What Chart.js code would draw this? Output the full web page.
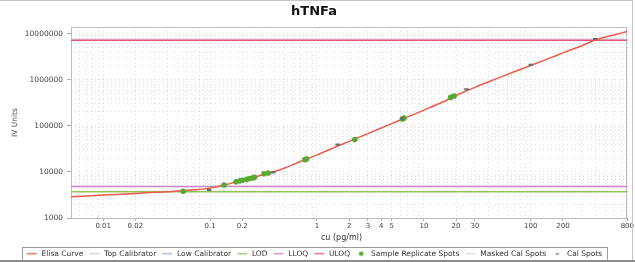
<!DOCTYPE html>
<html>
<head>
<meta charset="utf-8">
<script src="https://cdn.jsdelivr.net/npm/chart.js@4/dist/chart.umd.min.js"></script>
<style>
html,body{margin:0;padding:0;background:#fff;}
#wrap{width:635px;height:262px;position:relative;}
canvas{display:block;}
</style>
</head>
<body>
<div id="wrap"><canvas id="c" width="635" height="262"></canvas></div>
<script>
// ---- data ----
const chartTitle = 'hTNFa';
const xTitle = 'cu (pg/ml)';
const yTitle = 'IV Units';

const curveX = [0.005,0.01,0.02,0.03,0.05,0.07,0.1,0.15,0.2,0.3,0.4,0.5,0.7,1,1.5,2,3,5,7,10,15,20,30,50,70,100,150,200,300,400,500,600,800];
const curveY = [2900,3150,3400,3600,3850,4100,4450,5500,6500,8500,10200,12200,16800,23500,35000,46000,68000,112000,155000,220000,330000,455000,685000,1100000,1500000,2050000,2950000,3850000,5500000,7300000,8500000,9400000,11200000];

const sampleX = [0.056,0.135,0.175,0.19,0.2,0.22,0.235,0.25,0.26,0.32,0.35,0.77,0.8,2.26,6.3,6.5,17.8,19.2];
const sampleY = [3800,5200,6100,6400,6600,6900,7200,7400,7600,9100,9500,18500,19000,50700,141000,147000,415000,445000];

const calX = [0.098,0.39,1.56,6.25,25,100,400];
const calY = [4090,9800,39000,143000,617000,2100000,7660000];

const maskedX = [];
const maskedY = [];

const lodValue = 3700;
const lloqValue = 4830;
const lowCalValue = 4830;
const uloqValue = 7200000;
const topCalValue = 7660000;

const xTickLabels = [0.01,0.02,0.1,0.2,1,2,3,4,5,10,20,30,100,200,800];
const yTickLabels = [1000,10000,100000,1000000,10000000];

const X_MIN = 0.005, X_MAX = 800, Y_MIN = 1000, Y_MAX = 14000000;

// ---- helpers ----
const pts = (xs, ys) => xs.map((x, i) => ({x, y: ys[i]}));
const hline = v => [{x: X_MIN, y: v}, {x: X_MAX, y: v}];
function gridVals(min, max, n0, n1) {
  const out = [];
  for (let n = n0; n <= n1; n++) for (let k = 1; k <= 9; k++) {
    const v = parseFloat((k * Math.pow(10, n)).toPrecision(6));
    if (v >= min * 0.9999 && v <= max * 1.0001) out.push(v);
  }
  return out;
}
const isLabel = (list, v) => list.some(l => Math.abs(l - v) / l < 1e-6);

function icon(kind, color) {
  const c = document.createElement('canvas');
  c.width = 12; c.height = 7;
  const g = c.getContext('2d');
  if (kind === 'line') {
    g.strokeStyle = color; g.lineWidth = 1.3;
    g.beginPath(); g.moveTo(1, 3.5); g.lineTo(11, 3.5); g.stroke();
  } else if (kind === 'dot') {
    g.fillStyle = color; g.beginPath(); g.arc(6, 3.5, 2.3, 0, Math.PI * 2); g.fill();
  } else if (kind === 'dash') {
    g.fillStyle = color; g.fillRect(4.5, 3, 3, 1.4);
  }
  return c;
}

const COLORS = {
  curve: '#ee5a48', topCal: '#c4cde0', lowCal: '#9fb0d0', lod: '#8fc454',
  lloq: '#cf86c8', uloq: '#e2587a', sample: '#5aa832', masked: '#d8d8d8', cal: '#6a6a6a'
};

const datasets = [
  {label: 'Elisa Curve', data: pts(curveX, curveY), showLine: true, borderColor: COLORS.curve, borderWidth: 1.5, pointRadius: 0, cubicInterpolationMode: 'monotone', order: 3, legendKind: 'line'},
  {label: 'Top Calibrator', data: hline(topCalValue), showLine: true, borderColor: COLORS.topCal, borderWidth: 1, pointRadius: 0, order: 6, legendKind: 'line'},
  {label: 'Low Calibrator', data: hline(lowCalValue), showLine: true, borderColor: COLORS.lowCal, borderWidth: 1, pointRadius: 0, order: 6, legendKind: 'line'},
  {label: 'LOD', data: hline(lodValue), showLine: true, borderColor: COLORS.lod, borderWidth: 1.5, pointRadius: 0, order: 5, legendKind: 'line'},
  {label: 'LLOQ', data: hline(lloqValue), showLine: true, borderColor: COLORS.lloq, borderWidth: 1.5, pointRadius: 0, order: 5, legendKind: 'line'},
  {label: 'ULOQ', data: hline(uloqValue), showLine: true, borderColor: COLORS.uloq, borderWidth: 1.5, pointRadius: 0, order: 5, legendKind: 'line'},
  {label: 'Sample Replicate Spots', data: pts(sampleX, sampleY), showLine: false, backgroundColor: COLORS.sample, borderColor: COLORS.sample, pointRadius: 2.8, pointBorderWidth: 0, order: 1, legendKind: 'dot'},
  {label: 'Masked Cal Spots', data: pts(maskedX, maskedY), showLine: false, backgroundColor: COLORS.masked, borderColor: COLORS.masked, pointRadius: 2, order: 2, legendKind: 'line'},
  {label: 'Cal Spots', data: pts(calX, calY), showLine: false, pointStyle: 'line', borderColor: COLORS.cal, backgroundColor: COLORS.cal, pointRadius: 2.2, pointBorderWidth: 2.2, order: 0, legendKind: 'dash'}
];

const FONT = 'DejaVu Sans';

const decorPlugin = {
  id: 'decor',
  beforeDatasetsDraw(chart) {
    const {ctx, chartArea: a} = chart;
    ctx.save();
    ctx.strokeStyle = '#bdbdbd'; ctx.lineWidth = 1;
    ctx.strokeRect(Math.round(a.left) + 0.5, Math.round(a.top) + 0.5, Math.round(a.right - a.left) - 1, Math.round(a.bottom - a.top));
    ctx.restore();
  },
  afterDraw(chart) {
    const {ctx} = chart;
    const hb = chart.legend.legendHitBoxes;
    ctx.save();
    if (hb && hb.length) {
      const l = Math.min(...hb.map(h => h.left)) - 4;
      const r = Math.max(...hb.map(h => h.left + h.width)) + 4;
      const t = Math.min(...hb.map(h => h.top)) - 3;
      const b = Math.max(...hb.map(h => h.top + h.height)) + 3;
      ctx.strokeStyle = '#9a9a9a'; ctx.lineWidth = 1;
      ctx.strokeRect(Math.round(l) + 0.5, Math.round(t) + 0.5, Math.round(r - l), Math.round(b - t));
    }
    // outer frame of the picture
    ctx.fillStyle = '#c4c4c4';
    ctx.fillRect(0, 0, 633, 1);
    ctx.fillRect(632, 0, 1, 262);
    ctx.fillStyle = '#8c8c8c';
    ctx.fillRect(0, 260, 635, 2);
    ctx.restore();
  }
};

new Chart(document.getElementById('c'), {
  type: 'scatter',
  data: {datasets},
  options: {
    responsive: false,
    animation: false,
    devicePixelRatio: 1,
    layout: {padding: {left: 0, right: 7, top: 0, bottom: 0}},
    plugins: {
      title: {display: true, text: chartTitle, color: '#111', font: {family: FONT, size: 13, weight: 'bold'}, padding: {top: 4, bottom: 7.4}},
      tooltip: {enabled: false},
      legend: {
        position: 'bottom',
        maxHeight: 17,
        labels: {
          font: {family: FONT, size: 7.5},
          color: '#333',
          padding: 5,
          usePointStyle: true,
          pointStyleWidth: 12,
          generateLabels(chart) {
            return chart.data.datasets.map((ds, i) => ({
              text: ds.label,
              pointStyle: icon(ds.legendKind, ds.borderColor),
              fillStyle: ds.borderColor, strokeStyle: ds.borderColor,
              lineWidth: 0, hidden: false, datasetIndex: i, fontColor: '#333'
            }));
          }
        }
      }
    },
    scales: {
      x: {
        type: 'logarithmic',
        min: X_MIN, max: X_MAX,
        afterBuildTicks(scale) { scale.ticks = gridVals(X_MIN, X_MAX, -3, 2).map(v => ({value: v})); },
        afterFit(scale) { scale.height = 27; },
        ticks: {
          autoSkip: false, maxRotation: 0, padding: 1,
          font: {family: FONT, size: 7}, color: '#444',
          callback: v => isLabel(xTickLabels, v) ? String(v) : ''
        },
        grid: {
          color: 'rgba(175,175,175,0.4)', lineWidth: 1, tickLength: 3,
          tickColor: ctx => (ctx.tick && isLabel(xTickLabels, ctx.tick.value)) ? '#aaa' : 'rgba(0,0,0,0)'
        },
        border: {display: false, dash: [1, 3]},
        title: {display: true, text: xTitle + '      ', color: '#333', font: {family: FONT, size: 8}, padding: {top: 0, bottom: 2}}
      },
      y: {
        type: 'logarithmic',
        min: Y_MIN, max: Y_MAX,
        afterBuildTicks(scale) { scale.ticks = gridVals(Y_MIN, Y_MAX, 3, 7).map(v => ({value: v})); },
        afterFit(scale) { scale.width = 71; },
        ticks: {
          autoSkip: false, padding: 4,
          font: {family: FONT, size: 7.5}, color: '#444',
          callback: v => isLabel(yTickLabels, v) ? String(v) : ''
        },
        grid: {
          color: 'rgba(175,175,175,0.4)', lineWidth: 1, tickLength: 4,
          tickColor: ctx => (ctx.tick && isLabel(yTickLabels, ctx.tick.value)) ? '#aaa' : 'rgba(0,0,0,0)'
        },
        border: {display: false, dash: [1, 3]},
        title: {display: true, text: yTitle, color: '#444', font: {family: FONT, size: 7.5}, padding: {top: 11, bottom: 0}}
      }
    }
  },
  plugins: [decorPlugin]
});
</script>
</body>
</html>
